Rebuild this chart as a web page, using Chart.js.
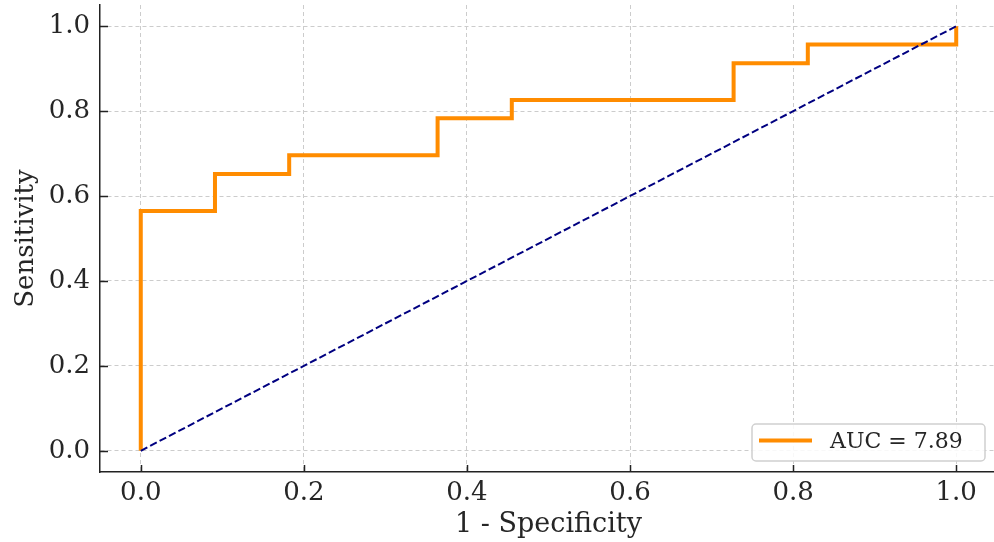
<!DOCTYPE html>
<html>
<head>
<meta charset="utf-8">
<script src="https://cdn.jsdelivr.net/npm/chart.js@4.4.0/dist/chart.umd.min.js"></script>
<style>
  html, body { margin: 0; padding: 0; background: #fff; overflow: hidden; }
  #wrap { width: 994px; height: 542px; overflow: hidden; }
  #wrap canvas { display: block; }
</style>
</head>
<body>
<div id="wrap"><canvas id="roc" width="1000" height="542" style="width:1000px;height:542px"></canvas></div>
<script>
// ROC curve points (1 - specificity, sensitivity)
const fprValues = [0, 0, 0.091, 0.091, 0.182, 0.182, 0.364, 0.364, 0.455, 0.455, 0.727, 0.727, 0.818, 0.818, 1.0, 1.0];
const tprValues = [0, 0.565, 0.565, 0.652, 0.652, 0.696, 0.696, 0.783, 0.783, 0.826, 0.826, 0.913, 0.913, 0.957, 0.957, 1.0];
// chance line
const chanceX = [0, 1];
const chanceY = [0, 1];
const rocLabel = 'AUC = 7.89';
const xTickValues = [0, 0.2, 0.4, 0.6, 0.8, 1.0];
const yTickValues = [0, 0.2, 0.4, 0.6, 0.8, 1.0];

const FONT = "'DejaVu Serif', 'Liberation Serif', serif";

const rocPoints = fprValues.map((x, i) => ({ x: x, y: tprValues[i] }));
const chancePoints = chanceX.map((x, i) => ({ x: x, y: chanceY[i] }));

// matplotlib style inward ticks
const innerTicks = {
  id: 'innerTicks',
  afterDraw(chart) {
    const ctx = chart.ctx;
    const area = chart.chartArea;
    const xs = chart.scales.x, ys = chart.scales.y;
    ctx.save();
    ctx.strokeStyle = '#222';
    ctx.lineWidth = 1.5;
    ctx.beginPath();
    xs.ticks.forEach(t => {
      const px = Math.round(xs.getPixelForValue(t.value)) + 0.5;
      ctx.moveTo(px, area.bottom);
      ctx.lineTo(px, area.bottom - 7);
    });
    ys.ticks.forEach(t => {
      const py = Math.round(ys.getPixelForValue(t.value)) + 0.5;
      ctx.moveTo(area.left, py);
      ctx.lineTo(area.left + 8, py);
    });
    ctx.stroke();
    ctx.restore();
  }
};

// legend box in the lower right corner
const cornerLegend = {
  id: 'cornerLegend',
  afterDraw(chart) {
    const ctx = chart.ctx;
    const area = chart.chartArea;
    const ds = chart.data.datasets.find(d => d.label);
    const w = 233, h = 37;
    const x = area.right - 12 - w;
    const y = area.bottom - 11 - h;
    ctx.save();
    ctx.fillStyle = 'rgba(255,255,255,0.85)';
    ctx.strokeStyle = '#d0d0d0';
    ctx.lineWidth = 1.5;
    ctx.beginPath();
    ctx.roundRect(x, y, w, h, 4);
    ctx.fill();
    ctx.stroke();
    ctx.strokeStyle = ds.borderColor;
    ctx.lineWidth = 4;
    ctx.beginPath();
    ctx.moveTo(x + 7, y + h / 2 - 2);
    ctx.lineTo(x + 60, y + h / 2 - 2);
    ctx.stroke();
    ctx.fillStyle = '#262626';
    ctx.font = '22px ' + FONT;
    ctx.textBaseline = 'middle';
    ctx.fillText(ds.label, x + 78, y + h / 2);
    ctx.restore();
  }
};

new Chart(document.getElementById('roc'), {
  type: 'scatter',
  data: {
    datasets: [
      {
        data: chancePoints,
        showLine: true,
        borderColor: '#000080',
        borderWidth: 2,
        borderDash: [7.4, 3.2],
        pointRadius: 0,
        order: 1
      },
      {
        label: rocLabel,
        data: rocPoints,
        showLine: true,
        borderColor: '#ff8c00',
        borderWidth: 4,
        borderJoinStyle: 'miter',
        borderCapStyle: 'butt',
        pointRadius: 0,
        order: 2
      }
    ]
  },
  options: {
    responsive: false,
    animation: false,
    devicePixelRatio: 1,
    layout: { padding: { top: 5, right: 3, bottom: 0, left: 0 } },
    plugins: {
      legend: { display: false },
      tooltip: { enabled: false }
    },
    scales: {
      x: {
        type: 'linear',
        min: -0.05,
        max: 1.05,
        afterBuildTicks: s => { s.ticks = xTickValues.map(v => ({ value: v })); },
        afterFit: s => { s.height = 70; s.paddingLeft = 0; s.paddingRight = 0; },
        grid: { color: '#cccccc', lineWidth: 1, drawTicks: false },
        border: { display: true, color: '#222', width: 1.5, dash: [4, 3] },
        ticks: {
          padding: 6,
          color: '#262626',
          font: { family: FONT, size: 26 },
          callback: v => v.toFixed(1)
        },
        title: {
          display: true,
          text: '1 - Specificity',
          color: '#262626',
          font: { family: FONT, size: 27 },
          padding: { top: 0, bottom: 1 }
        }
      },
      y: {
        type: 'linear',
        min: -0.05,
        max: 1.05,
        afterBuildTicks: s => { s.ticks = yTickValues.map(v => ({ value: v })); },
        afterFit: s => { s.width = 100; s.paddingTop = 0; s.paddingBottom = 0; },
        grid: { color: '#cccccc', lineWidth: 1, drawTicks: false },
        border: { display: true, color: '#222', width: 1.5, dash: [4, 3] },
        ticks: {
          padding: 10,
          color: '#262626',
          font: { family: FONT, size: 26 },
          callback: v => v.toFixed(1)
        },
        title: {
          display: true,
          text: 'Sensitivity',
          color: '#262626',
          font: { family: FONT, size: 26 },
          padding: { top: 11, bottom: 0 }
        }
      }
    }
  },
  plugins: [innerTicks, cornerLegend]
});
</script>
</body>
</html>
